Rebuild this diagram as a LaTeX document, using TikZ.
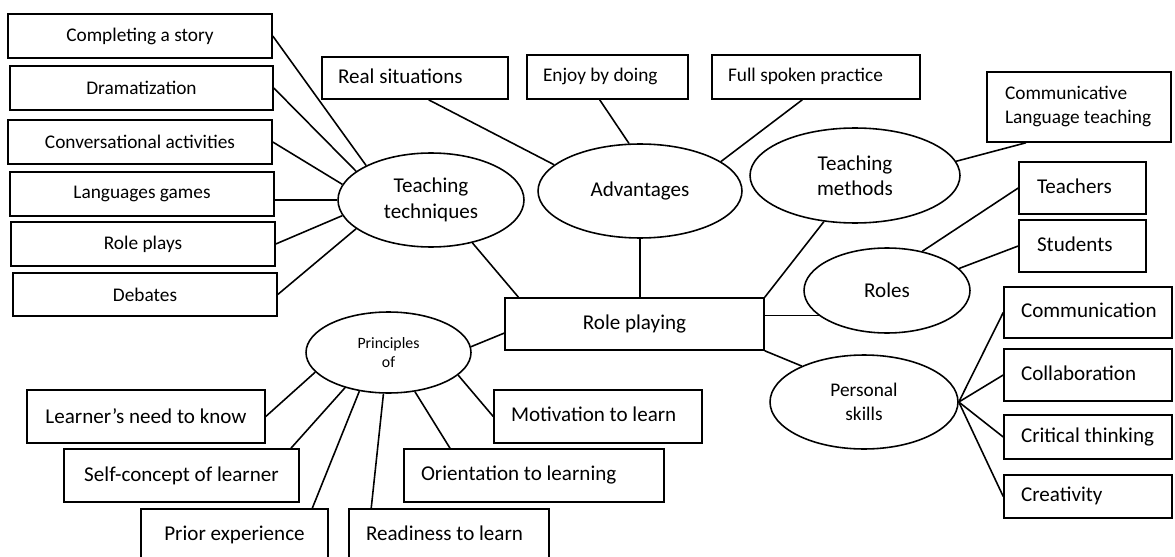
\documentclass[tikz,border=0pt]{standalone}
\usepackage{fontspec}
\setmainfont{Carlito}
\usetikzlibrary{shapes.geometric}

\newcommand{\padtext}[3]{\makebox[#1][l]{\hspace*{#2}\begin{tabular}{@{}l@{}}#3\end{tabular}}}

\tikzset{every picture/.style={line width=0.9pt},
  box/.style={draw,rectangle,inner sep=0pt,font=\fontsize{12}{14.5}\selectfont},
  lbox/.style={box,inner xsep=0pt},
  oval/.style={draw,ellipse,inner sep=0pt,align=center,font=\fontsize{12}{14.5}\selectfont},
  small/.style={font=\fontsize{11}{13.5}\selectfont},
  tiny/.style={font=\fontsize{9}{11}\selectfont}}

\begin{document}
\begin{tikzpicture}[x=0.02cm,y=-0.02cm]
\useasboundingbox (0,0) rectangle (1175,557);
\clip (0,0) rectangle (1175,557);
\node[box,small,minimum width=5.28cm,minimum height=0.88cm] (cs) at (140,36) {Completing a story};
\node[box,small,minimum width=5.26cm,minimum height=0.88cm] (dr) at (141.5,88) {Dramatization};
\node[box,small,minimum width=5.28cm,minimum height=0.88cm] (ca) at (140,142) {Conversational activities};
\node[box,small,minimum width=5.28cm,minimum height=0.88cm] (lg) at (142,194) {Languages games};
\node[box,small,minimum width=5.28cm,minimum height=0.88cm] (rpl) at (143,244) {Role plays};
\node[box,small,minimum width=5.28cm,minimum height=0.86cm] (db) at (145,294.5) {Debates};

\node[oval,minimum width=3.72cm,minimum height=1.88cm] (tt) at (431,200) {Teaching\\techniques};
\node[oval,minimum width=4.08cm,minimum height=1.88cm] (adv) at (640,191) {Advantages};
\node[oval,minimum width=4.2cm,minimum height=1.9cm] (tm) at (855,175.5) {Teaching\\methods};
\node[oval,minimum width=3.32cm,minimum height=1.7cm] (roles) at (887,290.5) {Roles};
\node[oval,small,minimum width=3.76cm,minimum height=1.88cm] (ps) at (864,402) {Personal\\skills};
\node[oval,tiny,minimum width=3.3cm,minimum height=1.62cm] (pr) at (388.5,352.5) {Principles\\of};

\node[lbox,minimum height=0.84cm] (rs) at (415,78) {\padtext{3.72cm}{0.32cm}{Real situations}};
\node[lbox,small,minimum height=0.88cm] (ed) at (607.5,77) {\padtext{3.22cm}{0.32cm}{Enjoy by doing}};
\node[lbox,small,minimum height=0.88cm] (fs) at (816,77) {\padtext{4.16cm}{0.32cm}{Full spoken practice}};
\node[lbox,small,minimum height=1.4cm] (clt) at (1079,107) {\padtext{3.68cm}{0.36cm}{Communicative\\Language teaching}};
\node[lbox,minimum height=1.04cm] (tea) at (1082.5,188) {\padtext{2.54cm}{0.36cm}{Teachers}};
\node[lbox,minimum height=1.04cm] (stu) at (1082.5,246) {\padtext{2.54cm}{0.36cm}{Students}};

\node[box,minimum width=5.18cm,minimum height=1.04cm] (rp) at (634.5,324) {Role playing};

\node[lbox,minimum height=1.02cm] (com) at (1088,312.5) {\padtext{3.36cm}{0.34cm}{Communication}};
\node[lbox,minimum height=1.04cm] (col) at (1088,375) {\padtext{3.36cm}{0.34cm}{Collaboration}};
\node[lbox,minimum height=0.88cm] (crit) at (1088,437) {\padtext{3.36cm}{0.34cm}{Critical thinking}};
\node[lbox,minimum height=0.86cm] (cre) at (1088,496.5) {\padtext{3.36cm}{0.34cm}{Creativity}};

\node[lbox,minimum height=1.06cm] (mot) at (598,416.5) {\padtext{4.16cm}{0.34cm}{Motivation to learn}};
\node[lbox,minimum height=1.06cm] (ori) at (534,475.5) {\padtext{5.2cm}{0.34cm}{Orientation to learning}};
\node[lbox,minimum height=1.04cm] (rdy) at (449,535) {\padtext{4.0cm}{0.34cm}{Readiness to learn}};
\node[box,minimum width=3.74cm,minimum height=1.04cm] (pe) at (234.5,535) {Prior experience};
\node[box,minimum width=4.7cm,minimum height=1.06cm] (sc) at (181.5,475.5) {Self-concept of learner};
\node[box,minimum width=4.76cm,minimum height=1.06cm] (ln) at (146,416.5) {Learner’s need to know};

\draw (cs.east) -- (tt.152);
\draw (dr.east) -- (tt.159);
\draw (ca.east) -- (tt.170);
\draw (tt.west -| lg.east) -- (tt.west);
\draw (rpl.east) -- (tt.190);
\draw (db.east) -- (tt.201);
\draw (tt.314) -- (rp.167);

\draw (rs.302) -- (adv.163);
\draw (ed.251) -- (adv.103);
\draw (fs.239) -- (adv.20);
\draw (adv.south) -- (adv.south |- rp.north);

\draw (tm.8) -- (clt.214);
\draw (tm.236) -- (rp.north east);
\draw (roles.48) -- (tea.west);
\draw (roles.17) -- (stu.west);
\draw (roles.200 -| rp.east) -- (roles.200);

\draw (rp.south east) -- (ps.150);
\draw (ps.east) -- (com.west);
\draw (ps.east) -- (col.west);
\draw (ps.east) -- (crit.west);
\draw (ps.east) -- (cre.west);

\draw (pr.4) -- (rp.184);
\draw (pr.195) -- (ln.east);
\draw (pr.219) -- (sc.14);
\draw (pr.233) -- (pe.19);
\draw (pr.263) -- (rdy.161);
\draw (pr.304) -- (ori.162);
\draw (pr.342) -- (mot.west);
\end{tikzpicture}
\end{document}
